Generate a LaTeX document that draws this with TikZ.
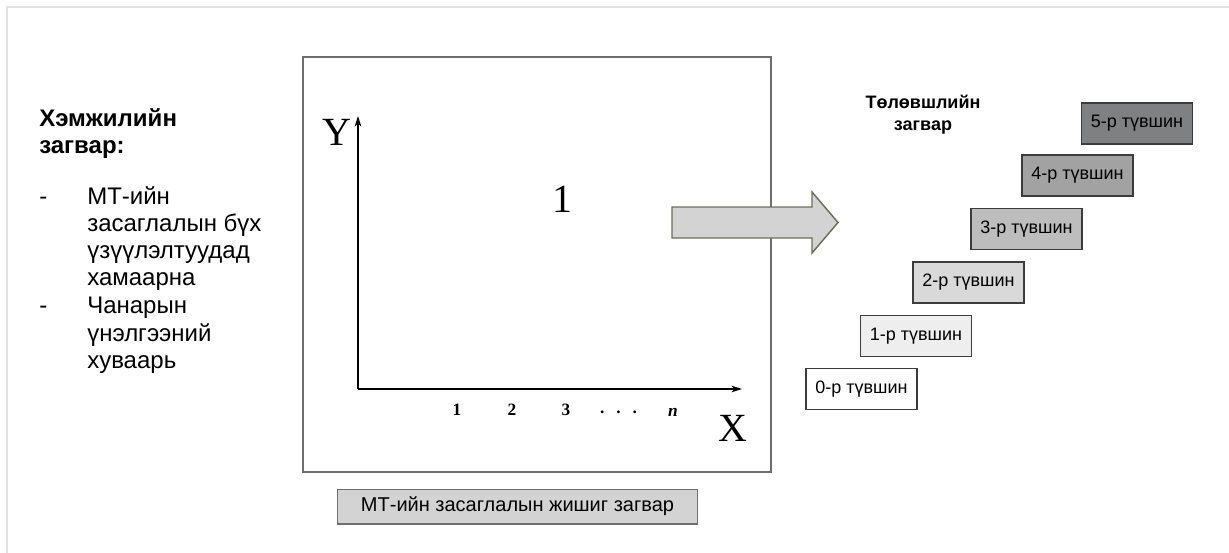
\documentclass[tikz,border=0pt]{standalone}
\usepackage{fontspec}
\setmainfont{Liberation Sans}
\newfontfamily\axisfont{Liberation Serif}
\usetikzlibrary{arrows.meta}
\definecolor{frameline}{HTML}{E2E2E2}
\definecolor{boxline}{HTML}{6E6E6E}
\definecolor{arrowfill}{HTML}{D3D3D3}
\definecolor{arrowline}{HTML}{6B6E5A}
\definecolor{lvlline}{HTML}{3C3C3C}
\definecolor{lvA}{HTML}{FFFFFF}
\definecolor{lvB}{HTML}{EEEEEE}
\definecolor{lvC}{HTML}{D9D9D9}
\definecolor{lvD}{HTML}{BDBDBD}
\definecolor{lvE}{HTML}{A2A2A2}
\definecolor{lvF}{HTML}{7F8082}
\tikzset{
  lvlbox/.style={draw=lvlline, line width=1.2pt, minimum width=83pt, minimum height=31pt,
    inner sep=0pt, font=\fontsize{13.5}{15}\selectfont},
  leftline/.style={anchor=base west, inner sep=0pt, font=\fontsize{18}{21}\selectfont},
  ticklab/.style={inner sep=0pt, font=\axisfont\bfseries\fontsize{13}{15}\selectfont},
  axis/.style={line width=0.8pt, -{Stealth[length=8pt,width=5pt]}}
}
\begin{document}
\begin{tikzpicture}[x=0.75pt,y=-0.75pt]
\useasboundingbox (0,0) rectangle (1229,553);
% page frame
\draw[frameline, line width=1.5pt] (7,553) -- (7,7) -- (1229,7);
% left text
\node[leftline, font=\bfseries\fontsize{18}{21}\selectfont] (h1) at (39,126) {Хэмжилийн};
\node[leftline, font=\bfseries\fontsize{18}{21}\selectfont] (h2) at (39,153) {загвар:};
\node[leftline] (d1) at (39,204) {-};
\node[leftline] (a1) at (87,204) {МТ-ийн};
\node[leftline] (a2) at (87,231) {засаглалын бүх};
\node[leftline] (a3) at (87,258) {үзүүлэлтуудад};
\node[leftline] (a4) at (87,285) {хамаарна};
\node[leftline] (d2) at (39,313) {-};
\node[leftline] (b1) at (87,313) {Чанарын};
\node[leftline] (b2) at (87,341) {үнэлгээний};
\node[leftline] (b3) at (87,368) {хуваарь};
% main box
\draw[boxline, line width=1.1pt] (303,57) rectangle (771,472);
\coordinate (O) at (358,389);
\coordinate (Ytip) at (358,116);
\coordinate (Xtip) at (742,389);
\draw[axis] (O) -- (Ytip);
\draw[axis] (O) -- (Xtip);
\node[inner sep=0pt, font=\axisfont\fontsize{30}{32}\selectfont] (ylab) at (337,132) {Y};
\node[inner sep=0pt, font=\axisfont\fontsize{30}{32}\selectfont] (xlab) at (733,428) {X};
\node[inner sep=0pt, font=\axisfont\fontsize{30}{32}\selectfont] (one) at (562,199) {1};
\node[ticklab] (t1) at (457,410) {1};
\node[ticklab] (t2) at (512,410) {2};
\node[ticklab] (t3) at (566,410) {3};
\node[ticklab] (tdots) at (618.5,412) {.\hspace{9pt}.\hspace{9pt}.};
\node[ticklab, font=\axisfont\bfseries\itshape\fontsize{13}{15}\selectfont] (tn) at (673,412) {n};
% caption
\node[draw=boxline, fill=arrowfill, line width=1pt, minimum width=270pt, minimum height=26pt, inner sep=0pt,
  font=\fontsize{15}{17}\selectfont] (cap) at (517.5,506.5) {МТ-ийн засаглалын жишиг загвар};
% big arrow
\draw[arrowline, fill=arrowfill, line width=1.1pt, line join=miter]
  (672,207) -- (812,207) -- (812,192) -- (838,222.5) -- (812,253) -- (812,238) -- (672,238) -- cycle;
% title
\node[align=center, inner sep=0pt, font=\bfseries\fontsize{13.5}{16.5}\selectfont, anchor=base] (title) at (923,130) {Төлөвшлийн\\загвар};
% levels
\node[lvlbox, fill=lvA] (L0) at (861.5,389) {0-р түвшин};
\node[lvlbox, fill=lvB] (L1) at (916,336) {1-р түвшин};
\node[lvlbox, fill=lvC] (L2) at (968.5,282.5) {2-р түвшин};
\node[lvlbox, fill=lvD] (L3) at (1026.5,229) {3-р түвшин};
\node[lvlbox, fill=lvE] (L4) at (1077.5,175.5) {4-р түвшин};
\node[lvlbox, fill=lvF] (L5) at (1137,123.5) {5-р түвшин};
\end{tikzpicture}
\end{document}
